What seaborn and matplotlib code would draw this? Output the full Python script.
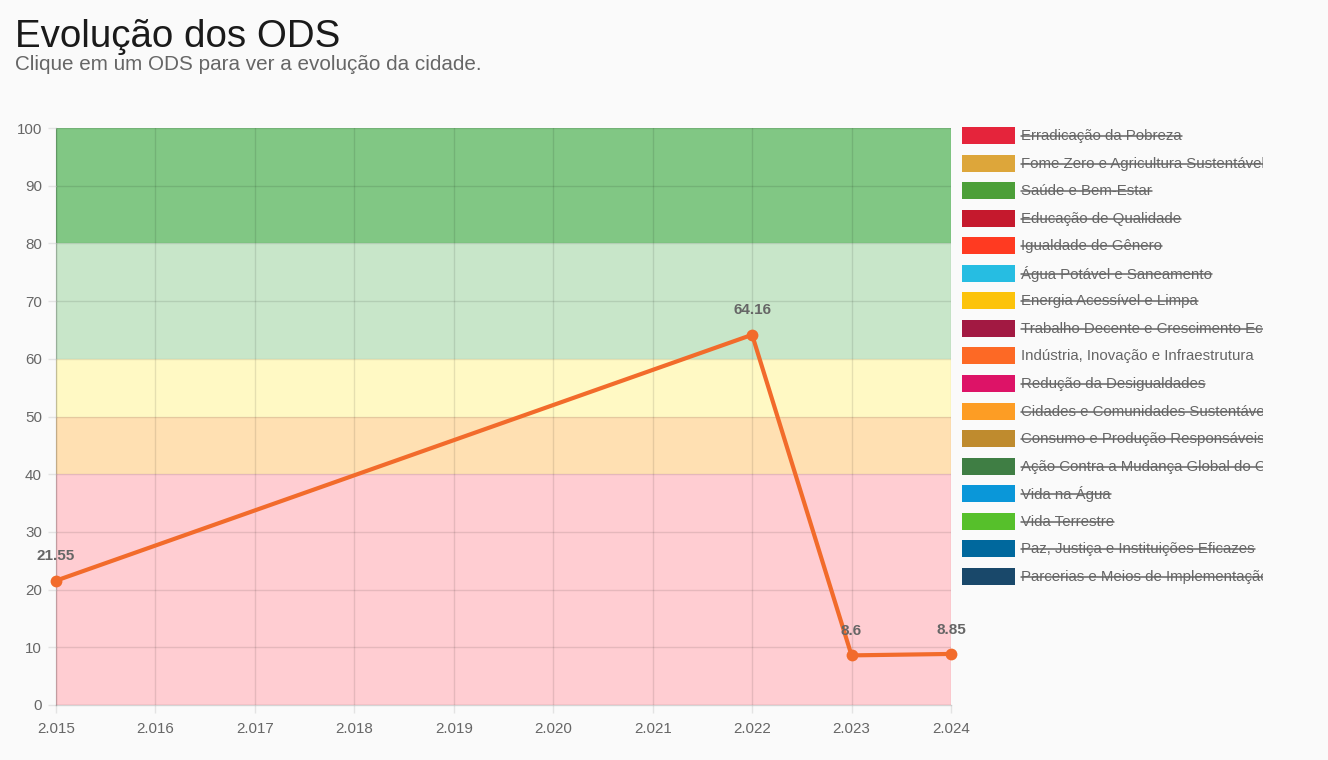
import matplotlib
matplotlib.use("Agg")
import matplotlib.pyplot as plt
from matplotlib.patches import Rectangle
import seaborn as sns
import pandas as pd

# Series: Indústria, Inovação e Infraestrutura
years = [2015, 2022, 2023, 2024]
values = [21.55, 64.16, 8.6, 8.85]
value_labels = ["21.55", "64.16", "8.6", "8.85"]
tick_years = list(range(2015, 2025))

# Background score bands (lower, upper, colour)
band_edges = [0, 40, 50, 60, 80, 100]
band_colors = ["#ffcdd2", "#ffe0b2", "#fff9c4", "#c8e6c9", "#81c784"]

# ODS legend
ods_names = [
    "Erradicação da Pobreza",
    "Fome Zero e Agricultura Sustentável",
    "Saúde e Bem-Estar",
    "Educação de Qualidade",
    "Igualdade de Gênero",
    "Água Potável e Saneamento",
    "Energia Acessível e Limpa",
    "Trabalho Decente e Crescimento Econômico",
    "Indústria, Inovação e Infraestrutura",
    "Redução da Desigualdades",
    "Cidades e Comunidades Sustentáveis",
    "Consumo e Produção Responsáveis",
    "Ação Contra a Mudança Global do Clima",
    "Vida na Água",
    "Vida Terrestre",
    "Paz, Justiça e Instituições Eficazes",
    "Parcerias e Meios de Implementação",
]
ods_colors = [
    "#e5243b", "#dda63a", "#4c9f38", "#c5192d", "#ff3a21", "#26bde2",
    "#fcc30b", "#a21942", "#fd6925", "#dd1367", "#fd9d24", "#bf8b2e",
    "#3f7e44", "#0a97d9", "#56c02b", "#00689d", "#19486a",
]
ods_visible = [False] * 8 + [True] + [False] * 8

sns.set_style("white")
plt.rcParams['font.family'] = ['Liberation Sans', 'DejaVu Sans']

W, H = 1328, 760
fig = plt.figure(figsize=(W / 100, H / 100), dpi=100, facecolor="#fafafa")

fig.text(15 / W, 1 - 47 / H, "Evolução dos ODS", fontsize=27.7, color="#1a1a1a",
         va="baseline", ha="left")
fig.text(15 / W, 1 - 70 / H, "Clique em um ODS para ver a evolução da cidade.",
         fontsize=14.9, color="#666666", va="baseline", ha="left")

ax = fig.add_axes([56 / W, 1 - 705 / H, (951 - 56) / W, (705 - 128) / H])
ax.set_facecolor("#fafafa")

for lo, hi, c in zip(band_edges[:-1], band_edges[1:], band_colors):
    ax.axhspan(lo, hi, color=c, zorder=0, lw=0)

df = pd.DataFrame({"ano": years, "valor": values})
sns.lineplot(data=df, x="ano", y="valor", ax=ax, color="#f26b2b", lw=3,
             marker="o", markersize=8.5, markeredgewidth=0, zorder=3,
             clip_on=False)

for x, y, lab in zip(years, values, value_labels):
    ax.annotate(lab, (x, y), xytext=(0, 17.5), textcoords="offset points",
                ha="center", va="center", fontsize=11, fontweight="bold",
                color="#666666", zorder=4)

ax.set_xlim(2015, 2024)
ax.set_ylim(0, 100)
ax.set_xticks(tick_years)
ax.set_xticklabels([f"{y // 1000}.{y % 1000:03d}" for y in tick_years])
ax.set_yticks(range(0, 101, 10))
ax.grid(True, color="black", alpha=0.1, lw=1)
for g in ax.get_xgridlines() + ax.get_ygridlines():
    g.set_zorder(1)
ax.tick_params(axis="both", colors="#e3e3e3", labelcolor="#666666",
               labelsize=10.9, length=6, width=1, direction="out",
               bottom=True, left=True)
ax.tick_params(axis="x", pad=6)
ax.tick_params(axis="y", pad=4)
ax.set_xlabel("")
ax.set_ylabel("")
for s in ["top", "right"]:
    ax.spines[s].set_visible(False)
for s in ["left", "bottom"]:
    ax.spines[s].set_color("black")
    ax.spines[s].set_alpha(0.15)
    ax.spines[s].set_linewidth(1)

# legend in its own axes, pixel coordinates, clipped at the right edge
lx0, lx1, ly0, ly1 = 955, 1263, 120, 590
lax = fig.add_axes([lx0 / W, 1 - ly1 / H, (lx1 - lx0) / W, (ly1 - ly0) / H])
lax.set_xlim(lx0, lx1)
lax.set_ylim(ly1, ly0)
lax.axis("off")

texts = []
row_h = 27.55
for i, (name, c) in enumerate(zip(ods_names, ods_colors)):
    yc = 135.5 + i * row_h
    lax.add_patch(Rectangle((962, yc - 8.5), 53, 17, facecolor=c,
                            edgecolor="none", clip_on=True))
    t = lax.text(1021, yc + 0.5, name, fontsize=10.8, color="#666666",
                 va="center", ha="left", clip_on=True)
    texts.append((t, yc))

fig.canvas.draw()
inv = lax.transData.inverted()
for (t, yc), vis in zip(texts, ods_visible):
    if vis:
        continue
    bb = t.get_window_extent()
    x0, _ = inv.transform((bb.x0, bb.y0))
    x1, _ = inv.transform((bb.x1, bb.y0))
    lax.plot([x0, min(x1, lx1)], [yc + 0.5, yc + 0.5], color="#666666",
             lw=1.1, clip_on=True)

fig.savefig("out.png", dpi=100, facecolor=fig.get_facecolor())
